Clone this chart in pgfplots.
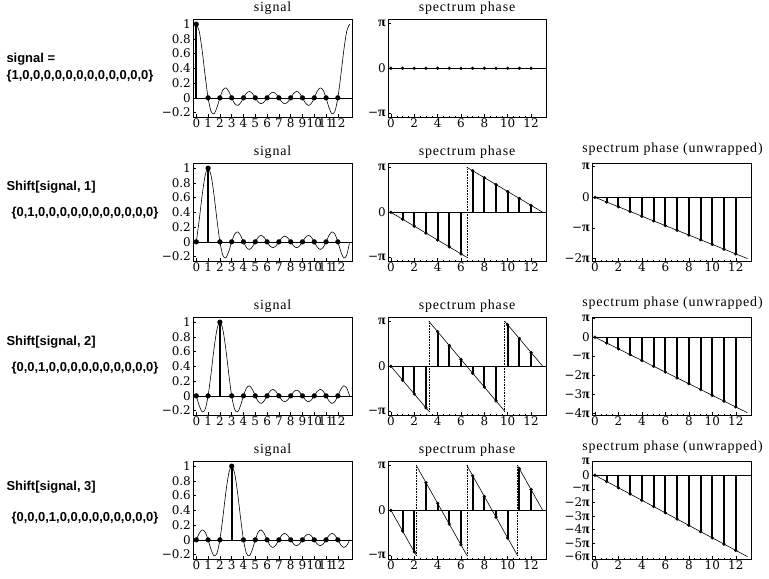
\documentclass[border=0pt]{standalone}
\usepackage{fontspec}
\setmainfont{Liberation Serif}
\newfontfamily\titlefont[LetterSpace=6]{Liberation Serif}
\newfontfamily\tickfont{DejaVu Serif}
\newfontfamily\pifont{Liberation Serif}
\newfontfamily\labfont{Liberation Sans}
\newcommand\PI{{\pifont\bfseries\fontsize{14}{14}\selectfont π}}
\usepackage{pgfplots}
\usepackage{pgfplotstable}
\pgfplotsset{compat=1.18}

\pgfplotstableread{
x s0 s1 s2 s3
0 1 0 0 0
0.25 0.9009 0.3017 -0.1325 0.0882
0.5 0.6382 0.6382 -0.2169 0.1354
0.75 0.3017 0.9009 -0.1828 0.1052
1 0 1 0 0
1.25 -0.1828 0.9009 0.3017 -0.1325
1.5 -0.2169 0.6382 0.6382 -0.2169
1.75 -0.1325 0.3017 0.9009 -0.1828
2 0 0 1 0
2.25 0.1052 -0.1828 0.9009 0.3017
2.5 0.1354 -0.2169 0.6382 0.6382
2.75 0.0882 -0.1325 0.3017 0.9009
3 0 0 0 1
3.25 -0.0769 0.1052 -0.1828 0.9009
3.5 -0.1028 0.1354 -0.2169 0.6382
3.75 -0.0691 0.0882 -0.1325 0.3017
4 0 0 0 0
4.25 0.0636 -0.0769 0.1052 -0.1828
4.5 0.0869 -0.1028 0.1354 -0.2169
4.75 0.0597 -0.0691 0.0882 -0.1325
5 0 0 0 0
5.25 -0.0570 0.0636 -0.0769 0.1052
5.5 -0.0792 0.0869 -0.1028 0.1354
5.75 -0.0553 0.0597 -0.0691 0.0882
6 0 0 0 0
6.25 0.0545 -0.0570 0.0636 -0.0769
6.5 0.0769 -0.0792 0.0869 -0.1028
6.75 0.0545 -0.0553 0.0597 -0.0691
7 0 0 0 0
7.25 -0.0553 0.0545 -0.0570 0.0636
7.5 -0.0792 0.0769 -0.0792 0.0869
7.75 -0.0570 0.0545 -0.0553 0.0597
8 0 0 0 0
8.25 0.0597 -0.0553 0.0545 -0.0570
8.5 0.0869 -0.0792 0.0769 -0.0792
8.75 0.0636 -0.0570 0.0545 -0.0553
9 0 0 0 0
9.25 -0.0691 0.0597 -0.0553 0.0545
9.5 -0.1028 0.0869 -0.0792 0.0769
9.75 -0.0769 0.0636 -0.0570 0.0545
10 0 0 0 0
10.25 0.0882 -0.0691 0.0597 -0.0553
10.5 0.1354 -0.1028 0.0869 -0.0792
10.75 0.1052 -0.0769 0.0636 -0.0570
11 0 0 0 0
11.25 -0.1325 0.0882 -0.0691 0.0597
11.5 -0.2169 0.1354 -0.1028 0.0869
11.75 -0.1828 0.1052 -0.0769 0.0636
12 0 0 0 0
12.25 0.3017 -0.1325 0.0882 -0.0691
12.5 0.6382 -0.2169 0.1354 -0.1028
12.75 0.9009 -0.1828 0.1052 -0.0769
13 1 0 0 0
}\sigtab

\pgfplotsset{
  base/.style={scale only axis, anchor=north west,
    axis line style={line width=0.7bp},
    tick align=inside, tick pos=left,
    major tick length=3bp, minor tick length=1.5bp,
    tick style={line width=0.5bp, black},
    ticklabel style={font=\tickfont\fontsize{12}{12}\selectfont},
    xticklabel style={inner sep=1.5bp},
    yticklabel style={inner sep=1bp, xshift=-1bp},
    title style={font=\titlefont\fontsize{14}{15}\selectfont, inner sep=0bp, yshift=-1.5bp},
  },
  sig/.style={base, width=159bp, height=98bp,
    xmin=-0.28, xmax=13.2, ymin=-0.26, ymax=1.07,
    xtick={0,1,2,3,4,5,6,7,8,9,10,11,12},
    xticklabels={0,1,2,3,4,5,6,7,8,9,10,11,12},
    ytick={-0.2,0,0.2,0.4,0.6,0.8,1},
    yticklabels={−0.2,0,0.2,0.4,0.6,0.8,1},
    title={signal}},
  ph/.style={base, width=158bp, height=98bp,
    xmin=-0.25, xmax=13.28, ymin=-3.40, ymax=3.44,
    xtick={0,2,4,6,8,10,12}, xticklabels={0,2,4,6,8,10,12},
    minor x tick num=3,
    ytick={-3.14159,0,3.14159}, yticklabels={−\PI,0,\PI},
    title={spectrum phase}},
  uw/.style={base, width=159bp, height=98bp,
    xmin=-0.25, xmax=13.3,
    xtick={0,2,4,6,8,10,12}, xticklabels={0,2,4,6,8,10,12},
    minor x tick num=3,
    title style={yshift=2.5bp, xshift=1bp},
    title={spectrum phase (unwrapped)}},
  zero/.style={black, line width=0.6bp, no marks},
  curve/.style={black, line width=0.6bp, smooth, no marks},
  seg/.style={black, line width=0.6bp, no marks},
  dots/.style={black, line width=0.6bp, densely dotted, no marks},
  stem/.style={ycomb, black, line width=2bp, mark=*, mark size=2.4bp,
    mark options={fill=black, line width=0.3bp, solid}},
  pstem/.style={stem, mark size=1.5bp},
}

\newcommand\lab{\labfont\bfseries\fontsize{13}{14}\selectfont}

\begin{document}
\begin{tikzpicture}
\useasboundingbox (0,0) rectangle (769bp,-579bp);

% ---------------- Row 1 ----------------
\begin{axis}[sig, at={(193bp,-19bp)}]
\addplot[curve] table[x=x,y=s0]{\sigtab};
\addplot[zero] coordinates {(-1,0) (14,0)};
\addplot[stem] coordinates {(0,1) (1,0) (2,0) (3,0) (4,0) (5,0) (6,0) (7,0) (8,0) (9,0) (10,0) (11,0) (12,0)};
\end{axis}
\begin{axis}[ph, at={(388bp,-19bp)}]
\addplot[zero] coordinates {(-1,0) (14,0)};
\addplot[pstem] coordinates {(0,0) (1,0) (2,0) (3,0) (4,0) (5,0) (6,0) (7,0) (8,0) (9,0) (10,0) (11,0) (12,0)};
\end{axis}

% ---------------- Row 2 ----------------
\begin{axis}[sig, at={(193bp,-163bp)}]
\addplot[curve] table[x=x,y=s1]{\sigtab};
\addplot[zero] coordinates {(-1,0) (14,0)};
\addplot[stem] coordinates {(0,0) (1,1) (2,0) (3,0) (4,0) (5,0) (6,0) (7,0) (8,0) (9,0) (10,0) (11,0) (12,0)};
\end{axis}
\begin{axis}[ph, at={(388bp,-163bp)}]
\addplot[zero] coordinates {(-1,0) (14,0)};
\addplot[seg] coordinates {(0,0) (6.5,-3.14159)};
\addplot[seg] coordinates {(6.5,3.14159) (13,0)};
\addplot[dots] coordinates {(6.5,-3.14159) (6.5,3.14159)};
\addplot[pstem] coordinates {(0,0) (1,-0.4833) (2,-0.9666) (3,-1.4500) (4,-1.9333) (5,-2.4166) (6,-2.8999) (7,2.8999) (8,2.4166) (9,1.9333) (10,1.4500) (11,0.9666) (12,0.4833)};
\end{axis}
\begin{axis}[uw, at={(592bp,-163bp)}, ymin=-6.53, ymax=3.52,
  ytick={-6.28319,-3.14159,0,3.14159}, yticklabels={−2\PI,−\PI,0,\PI}]
\addplot[zero] coordinates {(-1,0) (14,0)};
\addplot[seg] coordinates {(0,0) (13,-6.28319)};
\addplot[pstem] coordinates {(0,0) (1,-0.4833) (2,-0.9666) (3,-1.4500) (4,-1.9333) (5,-2.4166) (6,-2.8999) (7,-3.3832) (8,-3.8666) (9,-4.3499) (10,-4.8332) (11,-5.3165) (12,-5.7999)};
\end{axis}

% ---------------- Row 3 ----------------
\begin{axis}[sig, at={(193bp,-317bp)}]
\addplot[curve] table[x=x,y=s2]{\sigtab};
\addplot[zero] coordinates {(-1,0) (14,0)};
\addplot[stem] coordinates {(0,0) (1,0) (2,1) (3,0) (4,0) (5,0) (6,0) (7,0) (8,0) (9,0) (10,0) (11,0) (12,0)};
\end{axis}
\begin{axis}[ph, at={(388bp,-317bp)}]
\addplot[zero] coordinates {(-1,0) (14,0)};
\addplot[seg] coordinates {(0,0) (3.25,-3.14159)};
\addplot[seg] coordinates {(3.25,3.14159) (9.75,-3.14159)};
\addplot[seg] coordinates {(9.75,3.14159) (13,0)};
\addplot[dots] coordinates {(3.25,-3.14159) (3.25,3.14159)};
\addplot[dots] coordinates {(9.75,-3.14159) (9.75,3.14159)};
\addplot[pstem] coordinates {(0,0) (1,-0.9666) (2,-1.9333) (3,-2.8999) (4,2.4166) (5,1.4500) (6,0.4833) (7,-0.4833) (8,-1.4500) (9,-2.4166) (10,2.8999) (11,1.9333) (12,0.9666)};
\end{axis}
\begin{axis}[uw, at={(592bp,-317bp)}, ymin=-12.94, ymax=3.36,
  ytick={-12.56637,-9.42478,-6.28319,-3.14159,0,3.14159}, yticklabels={−4\PI,−3\PI,−2\PI,−\PI,0,\PI}]
\addplot[zero] coordinates {(-1,0) (14,0)};
\addplot[seg] coordinates {(0,0) (13,-12.56637)};
\addplot[pstem] coordinates {(0,0) (1,-0.9666) (2,-1.9333) (3,-2.8999) (4,-3.8666) (5,-4.8332) (6,-5.7999) (7,-6.7665) (8,-7.7331) (9,-8.6998) (10,-9.6664) (11,-10.6331) (12,-11.5997)};
\end{axis}

% ---------------- Row 4 ----------------
\begin{axis}[sig, at={(193bp,-461bp)}]
\addplot[curve] table[x=x,y=s3]{\sigtab};
\addplot[zero] coordinates {(-1,0) (14,0)};
\addplot[stem] coordinates {(0,0) (1,0) (2,0) (3,1) (4,0) (5,0) (6,0) (7,0) (8,0) (9,0) (10,0) (11,0) (12,0)};
\end{axis}
\begin{axis}[ph, at={(388bp,-461bp)}]
\addplot[zero] coordinates {(-1,0) (14,0)};
\addplot[seg] coordinates {(0,0) (2.16667,-3.14159)};
\addplot[seg] coordinates {(2.16667,3.14159) (6.5,-3.14159)};
\addplot[seg] coordinates {(6.5,3.14159) (10.83333,-3.14159)};
\addplot[seg] coordinates {(10.83333,3.14159) (13,0)};
\addplot[dots] coordinates {(2.16667,-3.14159) (2.16667,3.14159)};
\addplot[dots] coordinates {(6.5,-3.14159) (6.5,3.14159)};
\addplot[dots] coordinates {(10.83333,-3.14159) (10.83333,3.14159)};
\addplot[pstem] coordinates {(0,0) (1,-1.4500) (2,-2.8999) (3,1.9333) (4,0.4833) (5,-0.9666) (6,-2.4166) (7,2.4166) (8,0.9666) (9,-0.4833) (10,-1.9333) (11,2.8999) (12,1.4500)};
\end{axis}
\begin{axis}[uw, at={(592bp,-461bp)}, ymin=-19.40, ymax=3.30,
  ytick={-18.84956,-15.70796,-12.56637,-9.42478,-6.28319,-3.14159,0,3.14159}, yticklabels={−6\PI,−5\PI,−4\PI,−3\PI,−2\PI,−\PI,0,\PI}]
\addplot[zero] coordinates {(-1,0) (14,0)};
\addplot[seg] coordinates {(0,0) (13,-18.84956)};
\addplot[pstem] coordinates {(0,0) (1,-1.4500) (2,-2.8999) (3,-4.3499) (4,-5.7999) (5,-7.2498) (6,-8.6998) (7,-10.1498) (8,-11.5997) (9,-13.0497) (10,-14.4997) (11,-15.9496) (12,-17.3996)};
\end{axis}

% ---------------- Left labels ----------------
\node[anchor=west, font=\lab] at (3bp,-59bp) {signal =};
\node[anchor=west, font=\lab] at (3bp,-76bp) {\{1,0,0,0,0,0,0,0,0,0,0,0,0\}};
\node[anchor=west, font=\lab] at (3bp,-187bp) {Shift[signal, 1]};
\node[anchor=west, font=\lab] at (8bp,-213bp) {\{0,1,0,0,0,0,0,0,0,0,0,0,0\}};
\node[anchor=west, font=\lab] at (3bp,-342bp) {Shift[signal, 2]};
\node[anchor=west, font=\lab] at (8bp,-368bp) {\{0,0,1,0,0,0,0,0,0,0,0,0,0\}};
\node[anchor=west, font=\lab] at (3bp,-487bp) {Shift[signal, 3]};
\node[anchor=west, font=\lab] at (8bp,-518bp) {\{0,0,0,1,0,0,0,0,0,0,0,0,0\}};
\end{tikzpicture}
\end{document}
